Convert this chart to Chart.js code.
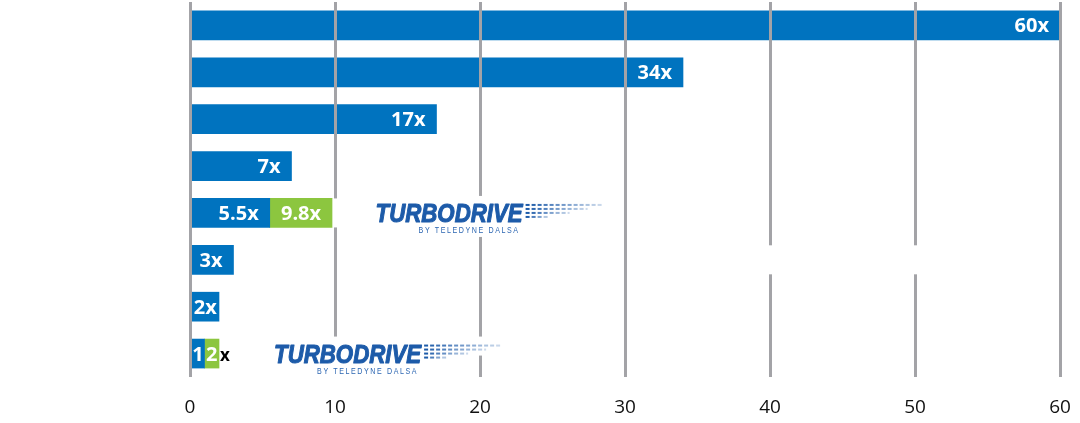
<!DOCTYPE html>
<html>
<head>
<meta charset="utf-8">
<script src="https://cdn.jsdelivr.net/npm/chart.js@4.4.1/dist/chart.umd.min.js"></script>
<style>
  html, body { margin: 0; padding: 0; background: #fff; }
  #wrap { width: 1080px; height: 423px; position: relative; }
</style>
</head>
<body>
<div id="wrap"><canvas id="chart"></canvas></div>
<script>
// 데이터
const rows = ['r1', 'r2', 'r3', 'r4', 'r5', 'r6', 'r7', 'r8'];
const baseValues = [60, 34, 17, 7, 5.5, 3, 2, 1];
const boostValues = [null, null, null, null, [5.5, 9.8], null, null, [1, 2]];
const baseLabels = ['60x', '34x', '17x', '7x', '5.5x', '3x', '2x', '1'];
const boostLabels = [null, null, null, null, '9.8x', null, null, '2'];
const outsideMarks = [null, null, null, null, null, null, null, 'x'];
const xTicks = [0, 10, 20, 30, 40, 50, 60];

// 로고 위치 (행 인덱스, 시작 값)
const logos = [
  { row: 4, at: 12.8 },
  { row: 7, at: 5.8 },
];
// 그리드 가림 영역
const gridMasks = [
  { row: 5, from: 38, to: 52 },
  { row: 4, from: 9.85, to: 10.6 },
];

const BLUE = '#0073bf';
const GREEN = '#8cc63f';
const LOGO_BLUE = '#1d5ba9';
const FONT = '"Open Sans", "Noto Sans", sans-serif';

function drawLogo(ctx, x, cy) {
  const textW = 147;
  ctx.save();
  ctx.font = 'italic bold 26px "Liberation Sans", Arial, sans-serif';
  const m = ctx.measureText('TURBODRIVE').width;
  ctx.translate(x, cy + 9);
  ctx.scale(textW / m, 1);
  ctx.fillStyle = LOGO_BLUE;
  ctx.strokeStyle = LOGO_BLUE;
  ctx.lineWidth = 1.1;
  ctx.lineJoin = 'round';
  ctx.textAlign = 'left';
  ctx.textBaseline = 'alphabetic';
  ctx.fillText('TURBODRIVE', 0, 0);
  ctx.strokeText('TURBODRIVE', 0, 0);
  ctx.restore();

  // 속도 대시
  const dashRows = [
    { dy: -8, len: 76 },
    { dy: -4, len: 62 },
    { dy: 0, len: 44 },
    { dy: 4, len: 22 },
  ];
  const x0 = x + textW + 3;
  ctx.save();
  for (const r of dashRows) {
    for (let dx = 0; dx < r.len; dx += 6) {
      ctx.globalAlpha = 1 - (dx / r.len) * 0.8;
      ctx.fillStyle = LOGO_BLUE;
      ctx.fillRect(x0 + dx, cy + r.dy - 1, Math.min(4, r.len - dx), 2);
    }
  }
  ctx.restore();

  // 서브타이틀
  ctx.save();
  ctx.font = '9px "Liberation Sans", Arial, sans-serif';
  ctx.letterSpacing = '2px';
  const sub = 'BY TELEDYNE DALSA';
  const sw = ctx.measureText(sub).width;
  ctx.translate(x + 43, cy + 20);
  ctx.scale(101 / sw, 1);
  ctx.fillStyle = '#2c66b2';
  ctx.textAlign = 'left';
  ctx.fillText(sub, 0, 0);
  ctx.restore();
}

const overlayPlugin = {
  id: 'overlay',
  afterDraw(chart) {
    const ctx = chart.ctx;
    const xs = chart.scales.x;
    const meta = chart.getDatasetMeta(0);
    const metaG = chart.getDatasetMeta(1);

    // 그리드 가림
    ctx.save();
    ctx.fillStyle = '#fff';
    for (const g of gridMasks) {
      const el = meta.data[g.row];
      const x1 = xs.getPixelForValue(g.from);
      const x2 = xs.getPixelForValue(g.to);
      ctx.fillRect(x1, el.y - el.height / 2, x2 - x1, el.height);
    }
    // 로고 배경
    for (const l of logos) {
      const el = meta.data[l.row];
      const lx = xs.getPixelForValue(l.at);
      ctx.fillRect(lx - 4, el.y - 17, 155, 41);
      ctx.fillRect(lx + 149, el.y - 17, 80, 19);
    }
    ctx.restore();

    // 로고
    for (const l of logos) {
      const el = meta.data[l.row];
      drawLogo(ctx, xs.getPixelForValue(l.at), el.y);
    }

    // 막대 라벨
    ctx.save();
    ctx.font = 'bold 20px ' + FONT;
    ctx.textBaseline = 'alphabetic';
    const drawLabel = (el, text, color) => {
      const left = Math.min(el.x, el.base);
      const right = Math.max(el.x, el.base);
      const w = ctx.measureText(text).width;
      ctx.fillStyle = color;
      if (w + 16 > right - left) {
        ctx.textAlign = 'center';
        ctx.fillText(text, (left + right) / 2, el.y + 7);
      } else {
        ctx.textAlign = 'right';
        ctx.fillText(text, right - 11, el.y + 7);
      }
    };
    rows.forEach((_, i) => {
      if (baseLabels[i]) drawLabel(meta.data[i], baseLabels[i], '#fff');
      if (boostLabels[i]) drawLabel(metaG.data[i], boostLabels[i], '#fff');
      if (outsideMarks[i]) {
        const el = boostValues[i] ? metaG.data[i] : meta.data[i];
        ctx.fillStyle = '#000';
        ctx.textAlign = 'left';
        ctx.font = 'bold 17px ' + FONT;
        ctx.fillText(outsideMarks[i], Math.max(el.x, el.base) + 1, el.y + 7);
        ctx.font = 'bold 20px ' + FONT;
      }
    });
    ctx.restore();
  }
};

new Chart(document.getElementById('chart'), {
  type: 'bar',
  data: {
    labels: rows,
    datasets: [
      { data: baseValues, backgroundColor: BLUE, barThickness: 29, grouped: false, borderWidth: 0 },
      { data: boostValues, backgroundColor: GREEN, barThickness: 29, grouped: false, borderWidth: 0 },
    ]
  },
  options: {
    indexAxis: 'y',
    responsive: true,
    maintainAspectRatio: false,
    animation: false,
    layout: { padding: { left: 190, right: 20, top: 2, bottom: 4 } },
    plugins: { legend: { display: false }, tooltip: { enabled: false } },
    scales: {
      x: {
        type: 'linear',
        min: 0, max: 60,
        afterBuildTicks: (axis) => { axis.ticks = xTicks.map(v => ({ value: v })); },
        afterFit: (axis) => { axis.height = 42; axis.paddingLeft = 0; axis.paddingRight = 0; },
        grid: { color: '#a3a3a7', lineWidth: 3, drawTicks: false, z: 1 },
        border: { display: false },
        ticks: { color: '#111', padding: 19, font: { family: FONT, size: 19 } }
      },
      y: { display: false }
    }
  },
  plugins: [overlayPlugin]
});
</script>
</body>
</html>
